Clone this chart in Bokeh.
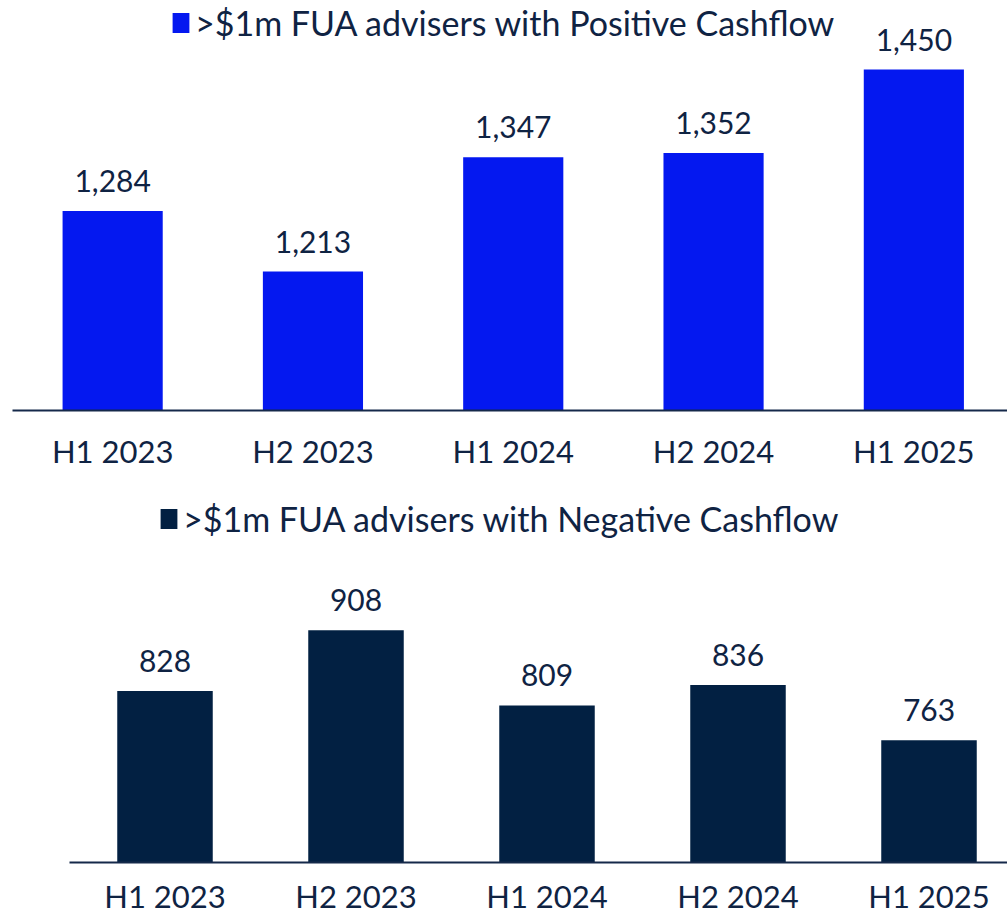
from bokeh.plotting import figure
from bokeh.models import Range1d, FixedTicker, Legend, LegendItem, ColumnDataSource
from bokeh.layouts import column, row
from bokeh.embed import file_html
from bokeh.resources import INLINE
from bokeh.core.properties import value

# ---- data ----
periods = ["H1 2023", "H2 2023", "H1 2024", "H2 2024", "H1 2025"]
positive = [1284, 1213, 1347, 1352, 1450]
negative = [828, 908, 809, 836, 763]
positive_name = ">$1m FUA advisers with Positive Cashflow"
negative_name = ">$1m FUA advisers with Negative Cashflow"

FONT = "Lato"
TEXT = "#0F2343"
BLUE = "#0418F0"
NAVY = "#022042"

idx = list(range(len(periods)))


def make_panel(vals, name, color, width, height, frame_left, frame_w, cat_px,
               y0, y1, bottom, standoff, leg_x, leg_y):
    src = ColumnDataSource(dict(x=idx, v=vals, lab=[f"{v:,}" for v in vals]))
    p = figure(width=width, height=height,
               x_range=Range1d(-0.5, -0.5 + frame_w / cat_px),
               y_range=Range1d(y0, y1),
               min_border_left=frame_left, min_border_right=0,
               min_border_top=0, min_border_bottom=bottom,
               y_axis_location=None, toolbar_location=None,
               output_backend="svg", outline_line_color=None,
               border_fill_color="white", background_fill_color="white")
    r = p.vbar(x="x", top="v", bottom=y0, width=0.5, source=src,
               fill_color=color, line_color=None)
    p.text(x="x", y="v", text="lab", source=src, text_align="center",
           text_baseline="alphabetic", y_offset=-30,
           text_font=value(FONT), text_font_size="30px", text_color=TEXT)
    p.xgrid.visible = False
    p.ygrid.visible = False
    ax = p.xaxis[0]
    ax.ticker = FixedTicker(ticks=idx)
    ax.major_label_overrides = {i: s for i, s in zip(idx, periods)}
    ax.axis_line_color = "#15294A"
    ax.axis_line_width = 2
    ax.major_tick_line_color = None
    ax.minor_tick_line_color = None
    ax.major_tick_out = 0
    ax.major_label_standoff = standoff
    ax.major_label_text_font = FONT
    ax.major_label_text_font_size = "31px"
    ax.major_label_text_color = TEXT
    leg = Legend(items=[LegendItem(label=name, renderers=[r])],
                 location=(leg_x, leg_y), border_line_color=None,
                 background_fill_alpha=0, padding=0, margin=0, spacing=0,
                 glyph_width=21, glyph_height=25, label_standoff=4,
                 label_text_font=FONT, label_text_font_size="34px",
                 label_text_color=TEXT)
    p.add_layout(leg)
    return p


p1 = make_panel(positive, positive_name, BLUE, 1007, 485, 12, 995, 200.3,
                1050, 1050 + 410 / 0.8523, 75, 21, 158, 367)
p2 = make_panel(negative, negative_name, NAVY, 1007, 432, 69, 938, 191,
                602, 602 + 377 / 0.7586, 55, 14, 89, 323)

layout = column(row(p1), row(p2), spacing=0)
open("out.html", "w").write(file_html(layout, INLINE))
